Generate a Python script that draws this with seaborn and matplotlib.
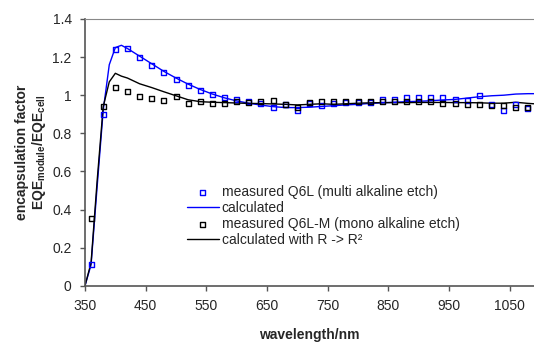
import matplotlib
matplotlib.use("Agg")
import matplotlib.pyplot as plt
import seaborn as sns
import pandas as pd

# measured points (every 20 nm)
wl_meas = list(range(360, 1081, 20))
q6l_meas = [0.11, 0.90, 1.24, 1.245, 1.199, 1.155, 1.118, 1.082, 1.052, 1.026,
            1.003, 0.989, 0.977, 0.966, 0.957, 0.936, 0.952, 0.922, 0.957, 0.947,
            0.958, 0.960, 0.960, 0.960, 0.980, 0.978, 0.987, 0.987, 0.987, 0.987,
            0.978, 0.973, 0.997, 0.950, 0.921, 0.950, 0.929]
q6lm_meas = [0.355, 0.94, 1.043, 1.022, 0.994, 0.984, 0.973, 0.994, 0.957, 0.966,
             0.959, 0.959, 0.966, 0.963, 0.966, 0.973, 0.952, 0.936, 0.961, 0.966,
             0.966, 0.966, 0.966, 0.966, 0.966, 0.966, 0.966, 0.966, 0.966, 0.959,
             0.959, 0.952, 0.952, 0.945, 0.945, 0.936, 0.933]

# calculated curves
wl_calc = [350, 360, 370, 380, 390, 400, 410, 420, 440, 460, 480, 500, 520, 540,
           560, 580, 600, 620, 640, 660, 680, 700, 720, 740, 760, 780, 800, 820,
           840, 860, 880, 900, 920, 940, 960, 980, 1000, 1020, 1040, 1060, 1080, 1090]
calc = [0.0, 0.11, 0.52, 0.92, 1.16, 1.25, 1.262, 1.245, 1.205, 1.165, 1.125, 1.09,
        1.058, 1.03, 1.006, 0.986, 0.970, 0.958, 0.948, 0.940, 0.935, 0.935, 0.937,
        0.941, 0.945, 0.949, 0.952, 0.957, 0.960, 0.963, 0.966, 0.968, 0.971, 0.975,
        0.978, 0.985, 0.992, 0.997, 1.0, 1.006, 1.008, 1.008]
calc_r2 = [0.0, 0.12, 0.55, 0.94, 1.07, 1.115, 1.10, 1.09, 1.06, 1.04, 1.018, 0.997,
           0.976, 0.966, 0.963, 0.961, 0.959, 0.957, 0.956, 0.954, 0.952, 0.949,
           0.952, 0.955, 0.952, 0.955, 0.958, 0.960, 0.961, 0.961, 0.961, 0.962,
           0.962, 0.962, 0.961, 0.961, 0.960, 0.958, 0.958, 0.963, 0.957, 0.955]

sns.set_style("white")
plt.rcParams['font.family'] = ['Liberation Sans', 'DejaVu Sans']
plt.rcParams['mathtext.fontset'] = 'custom'
plt.rcParams['mathtext.rm'] = 'Liberation Sans'
plt.rcParams['mathtext.bf'] = 'Liberation Sans:bold'

fig = plt.figure(figsize=(5.34, 3.42), dpi=100)
ax = fig.add_axes([85 / 534, 56.3 / 342, 1 - 85 / 534, 266.7 / 342])

sns.scatterplot(x=wl_meas, y=q6l_meas, ax=ax, marker='s', s=13, facecolor='none',
                edgecolor='#0000ff', linewidth=1, label='measured Q6L (multi alkaline etch)', zorder=3)
sns.lineplot(x=wl_calc, y=calc, ax=ax, color='#0000ff', linewidth=1, label='calculated')
sns.scatterplot(x=wl_meas, y=q6lm_meas, ax=ax, marker='s', s=13, facecolor='none',
                edgecolor='black', linewidth=1, label='measured Q6L-M (mono alkaline etch)', zorder=3)
sns.lineplot(x=wl_calc, y=calc_r2, ax=ax, color='black', linewidth=1, label='calculated with R -> R²')

ax.set_xlim(350, 1090)
ax.set_ylim(0, 1.4)
ax.set_xticks(range(350, 1051, 100))
ax.set_yticks([0, 0.2, 0.4, 0.6, 0.8, 1, 1.2, 1.4])
ax.set_yticklabels(['0', '0.2', '0.4', '0.6', '0.8', '1', '1.2', '1.4'])
ax.tick_params(axis='both', direction='out', length=3.6, width=1, color='#555555',
               labelsize=10, pad=6, bottom=True, left=True)

ax.spines['right'].set_visible(False)
ax.spines['top'].set_color('#888888')
for side in ['left', 'bottom']:
    ax.spines[side].set_color('#555555')
    ax.spines[side].set_linewidth(1.2)

ax.set_xlabel('wavelength/nm', fontsize=10, fontweight='bold', labelpad=11)
ax.set_ylabel('encapsulation factor\n'
              r'EQE$_{\mathbf{module}}$/EQE$_{\mathbf{cell}}$',
              fontsize=10, fontweight='bold', labelpad=3, linespacing=1.05)

ax.legend(loc='upper left', bbox_to_anchor=(180 / 534, 1 - 178 / 342),
          bbox_transform=fig.transFigure, frameon=False, fontsize=10,
          handlelength=2.3, handletextpad=0.2, labelspacing=0.15, borderpad=0)

fig.savefig('out.png', dpi=100)
